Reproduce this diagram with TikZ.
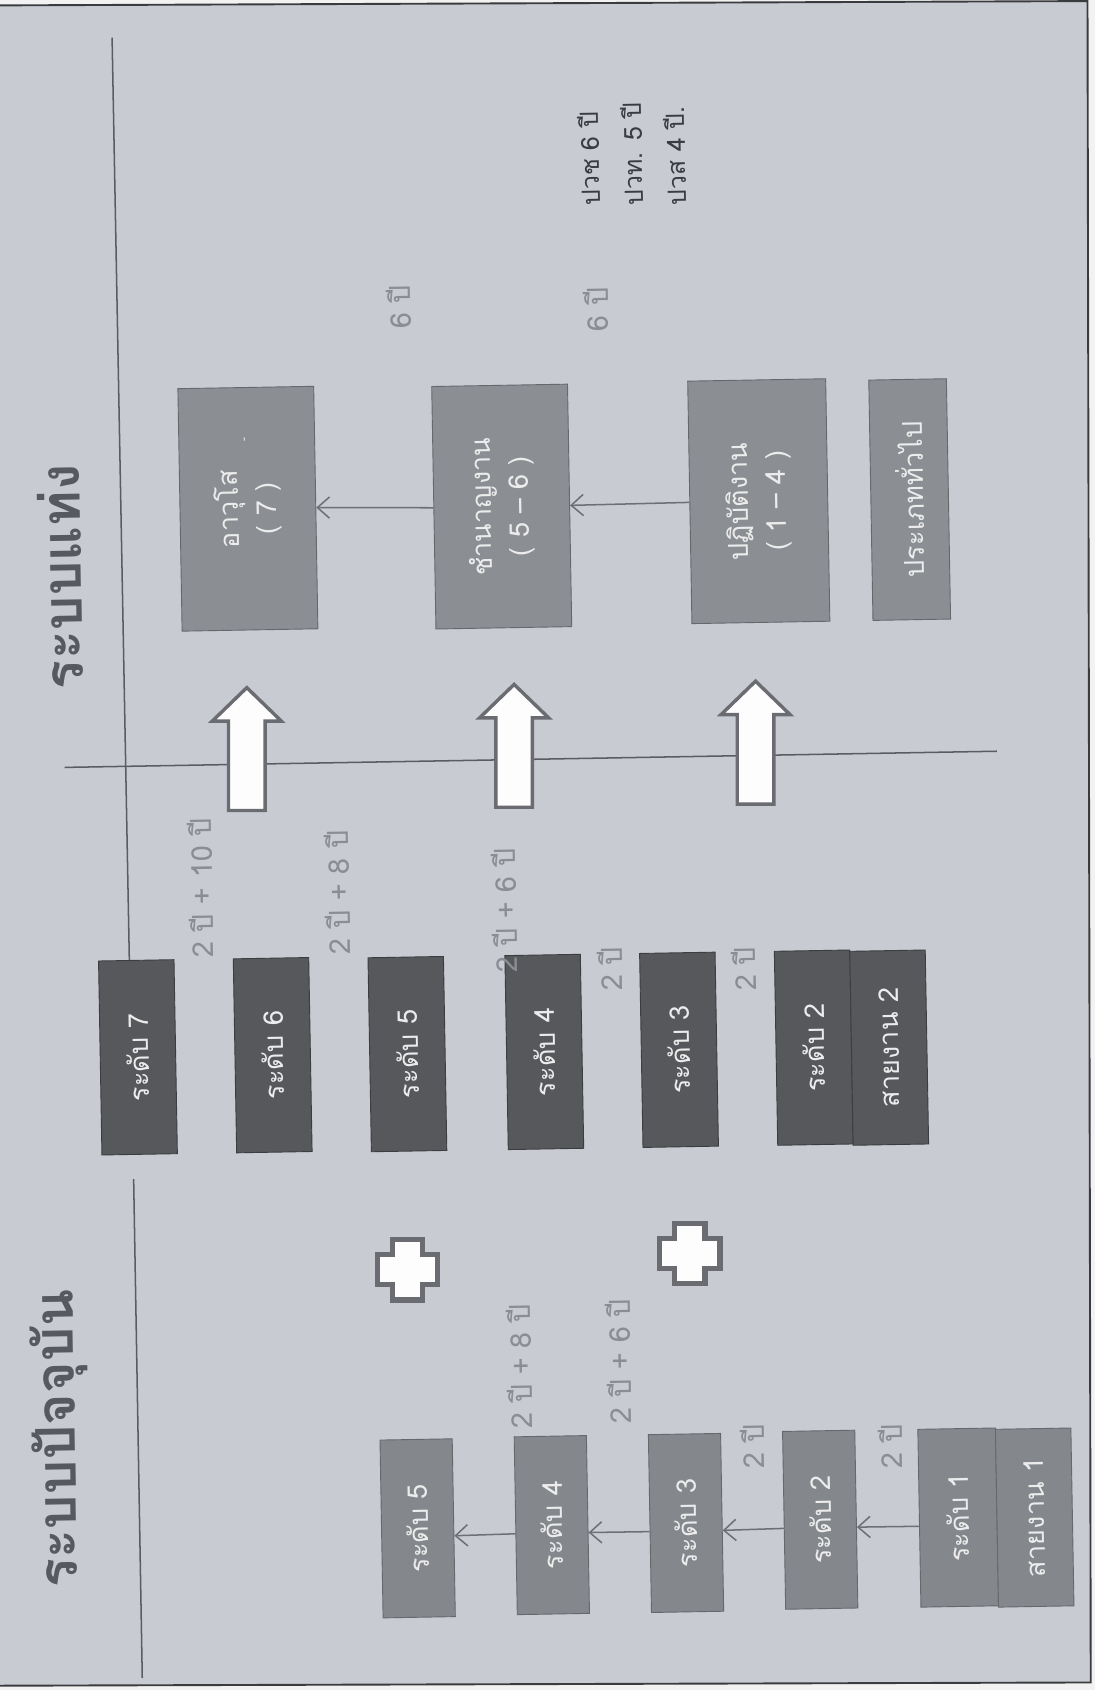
\documentclass[tikz,border=0pt]{standalone}
\usepackage{fontspec}
\newfontfamily\thai[Script=Thai]{Loma}
\usetikzlibrary{arrows.meta,calc}
\definecolor{outside}{HTML}{F2F2F2}
\definecolor{slidebg}{HTML}{C8CBD2}
\definecolor{frameline}{HTML}{3A3B3E}
\definecolor{ruleline}{HTML}{5A5C61}
\definecolor{midfill}{HTML}{84878C}
\definecolor{midedge}{HTML}{66686C}
\definecolor{darkfill}{HTML}{56585C}
\definecolor{darkedge}{HTML}{3C3D40}
\definecolor{rightfill}{HTML}{8B8E93}
\definecolor{boxtext}{HTML}{ECECEC}
\definecolor{lblgray}{HTML}{8A8D93}
\definecolor{titlegray}{HTML}{56595E}
\definecolor{infotext}{HTML}{3A3C40}
\definecolor{arrowedge}{HTML}{6A6C71}
\definecolor{connline}{HTML}{6C6F74}
\begin{document}
\begin{tikzpicture}[x=0.5mm,y=-0.5mm,
  boxbase/.style={rotate=91, draw, line width=1.2pt, inner sep=0pt, align=center,
    text=boxtext, font=\thai\fontsize{36}{50}\selectfont},
  leftbox/.style={boxbase, fill=midfill, draw=midedge, minimum width=82.5mm, minimum height=33.5mm},
  darkbox/.style={boxbase, fill=darkfill, draw=darkedge, minimum width=90mm, minimum height=35mm},
  rightbox/.style={boxbase, fill=rightfill, draw=midedge, minimum width=112.5mm, minimum height=63mm},
  genbox/.style={boxbase, fill=rightfill, draw=midedge, minimum width=111.5mm, minimum height=36mm},
  lbl/.style={rotate=91, inner sep=0pt, text=lblgray, font=\thai\fontsize{38}{40}\selectfont},
  info/.style={rotate=91, inner sep=0pt, text=infotext, font=\thai\fontsize{33}{36}\selectfont},
  titletext/.style={rotate=91, inner sep=0pt, text=titlegray, font=\thai\bfseries\fontsize{72}{80}\selectfont},
  rulestyle/.style={draw=ruleline, line width=2pt},
  conn/.style={draw=connline, line width=2pt, -{Straight Barb[length=16pt,width=28pt,line width=2pt]}},
  bigarrow/.pic={\draw[draw=arrowedge, fill=white!96!slidebg, line width=4.5pt, line join=miter]
      (0,-57) -- (32,-26) -- (17,-26) -- (17,57) -- (-17,57) -- (-17,-26) -- (-32,-26) -- cycle;},
  plussign/.pic={\draw[draw=arrowedge, fill=white!96!slidebg, line width=7pt, line join=miter]
      (-14,-28) -- (14,-28) -- (14,-14) -- (28,-14) -- (28,14) -- (14,14) -- (14,28) -- (-14,28)
      -- (-14,14) -- (-28,14) -- (-28,-14) -- (-14,-14) -- cycle;}
]
\useasboundingbox (0,0) rectangle (1016,1568);
\fill[outside] (0,0) rectangle (1016,1568);
\fill[slidebg] (0,5) -- (1009,1) -- (1012,1561) -- (0,1564) -- cycle;
\draw[frameline, line width=2.5pt] (0,5) -- (1009,1) -- (1012,1561) -- (0,1564);

% title rules
\draw[rulestyle] (104,35) -- (120,891);
\draw[rulestyle] (124,1094) -- (132,1557);
\draw[rulestyle] (60,712) -- (925,697);

% titles
\node[titletext] (title1) at (56,1335) {ระบบปัจจุบัน};
\node[titletext] (title2) at (56,535) {ระบบแท่ง};

% current system (left part of slide)
\node[leftbox] (L5) at (387.5,1418) {ระดับ 5};
\node[leftbox] (L4) at (512,1415) {ระดับ 4};
\node[leftbox] (L3) at (636.5,1413) {ระดับ 3};
\node[leftbox] (L2) at (761,1410) {ระดับ 2};
\node[leftbox, minimum height=36mm] (L1) at (889,1408) {ระดับ 1};
\node[leftbox, minimum height=35mm] (S1) at (960,1408) {สายงาน 1};
\draw[conn] ($(L1.north)!0.09!(L1.north west)$) -- ($(L2.south)!0.09!(L2.south west)$);
\draw[conn] ($(L2.north)!0.09!(L2.north west)$) -- ($(L3.south)!0.09!(L3.south west)$);
\draw[conn] ($(L3.north)!0.09!(L3.north west)$) -- ($(L4.south)!0.09!(L4.south west)$);
\draw[conn] ($(L4.north)!0.09!(L4.north west)$) -- ($(L5.south)!0.09!(L5.south west)$);

\node[lbl] (a1) at (826,1342) {2 ปี};
\node[lbl] (a2) at (698,1342) {2 ปี};
\node[lbl] (a3) at (574,1263) {2 ปี + 6 ปี};
\node[lbl] (a4) at (482,1268) {2 ปี + 8 ปี};

\pic at (378,1178) {plussign};
\pic at (640,1163) {plussign};

% middle dark boxes
\node[darkbox] (M7) at (128,981) {ระดับ 7};
\node[darkbox] (M6) at (253,979) {ระดับ 6};
\node[darkbox] (M5) at (378,978) {ระดับ 5};
\node[darkbox] (M4) at (505,976) {ระดับ 4};
\node[darkbox] (M3) at (630,974) {ระดับ 3};
\node[darkbox] (M2) at (755,972) {ระดับ 2};
\node[darkbox] (MS2) at (825,972) {สายงาน 2};

\node[lbl] (b1) at (186,824) {2 ปี + 10 ปี};
\node[lbl] (b2) at (313,828) {2 ปี + 8 ปี};
\node[lbl] (b3) at (468,845) {2 ปี + 6 ปี};
\node[lbl] (b4) at (566,899) {2 ปี};
\node[lbl] (b5) at (690,899) {2 ปี};

% big arrows
\pic at (229,695) {bigarrow};
\pic at (477,692) {bigarrow};
\pic at (701,689) {bigarrow};

% new system (right part of slide)
\node[rightbox] (A7) at (230,472) {อาวุโส\\( 7 )};
\node[rotate=91, inner sep=0pt, text=boxtext, font=\thai\fontsize{16}{18}\selectfont] (tick) at (228,408) {-};
\node[rightbox] (A56) at (465.5,470) {ชำนาญงาน\\( 5 – 6 )};
\node[rightbox, minimum height=64mm] (A14) at (704,465) {ปฏิบัติงาน\\( 1 – 4 )};
\node[genbox] (AG) at (844,463.5) {ประเภททั่วไป};
\draw[conn] (A14.north) -- (A56.south);
\draw[conn] (A56.north) -- (A7.south);

\node[lbl] (c1) at (370,285) {6 ปี};
\node[lbl] (c2) at (553,287) {6 ปี};

\node[info, anchor=west] (d1) at (547,191) {ปวช 6 ปี};
\node[info, anchor=west] (d2) at (587,191) {ปวท. 5 ปี};
\node[info, anchor=west] (d3) at (627,191) {ปวส 4 ปี.};
\end{tikzpicture}
\end{document}
